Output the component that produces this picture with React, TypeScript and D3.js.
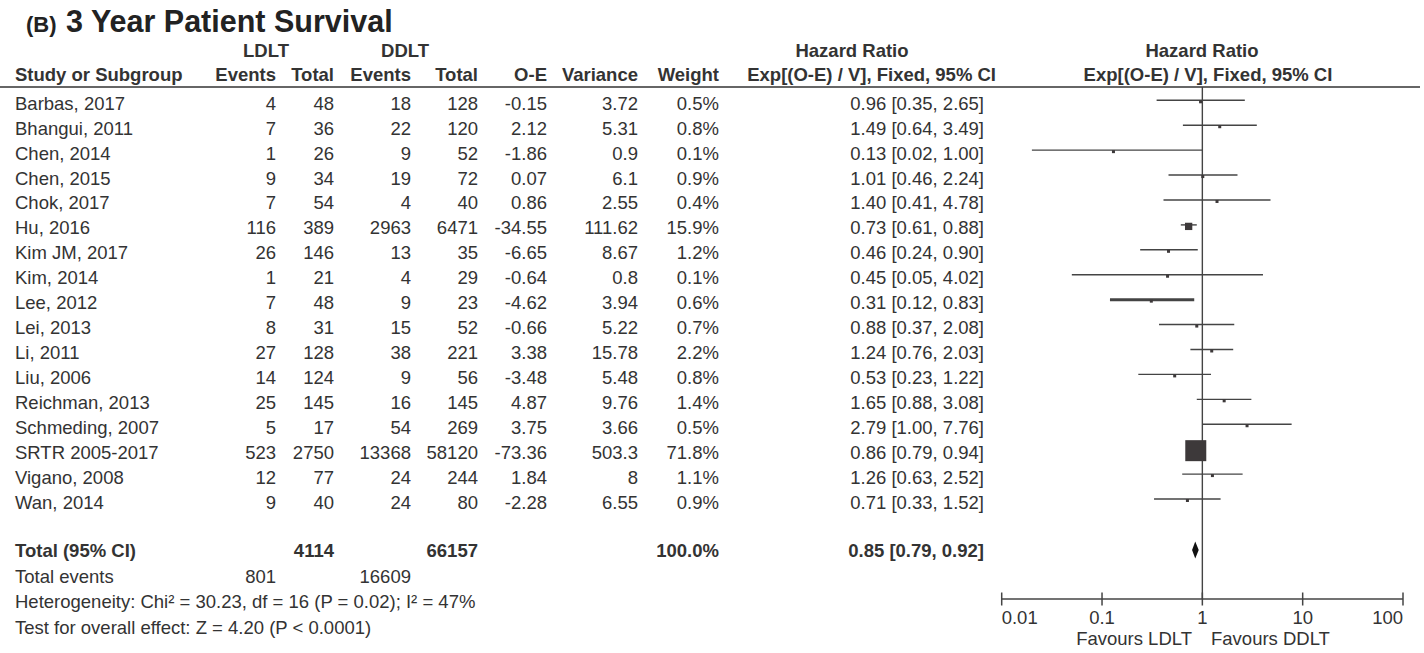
import React, { useEffect } from "react";
import * as d3 from "d3";

const studies = ["Barbas, 2017","Bhangui, 2011","Chen, 2014","Chen, 2015","Chok, 2017","Hu, 2016","Kim JM, 2017","Kim, 2014","Lee, 2012","Lei, 2013","Li, 2011","Liu, 2006","Reichman, 2013","Schmeding, 2007","SRTR 2005-2017","Vigano, 2008","Wan, 2014"];
const ldltEvents = [4,7,1,9,7,116,26,1,7,8,27,14,25,5,523,12,9];
const ldltTotal = [48,36,26,34,54,389,146,21,48,31,128,124,145,17,2750,77,40];
const ddltEvents = [18,22,9,19,4,2963,13,4,9,15,38,9,16,54,13368,24,24];
const ddltTotal = [128,120,52,72,40,6471,35,29,23,52,221,56,145,269,58120,244,80];
const oeValues = [-0.15,2.12,-1.86,0.07,0.86,-34.55,-6.65,-0.64,-4.62,-0.66,3.38,-3.48,4.87,3.75,-73.36,1.84,-2.28];
const varianceValues = [3.72,5.31,0.9,6.1,2.55,111.62,8.67,0.8,3.94,5.22,15.78,5.48,9.76,3.66,503.3,8,6.55];
const weights = [0.5,0.8,0.1,0.9,0.4,15.9,1.2,0.1,0.6,0.7,2.2,0.8,1.4,0.5,71.8,1.1,0.9];
const hrValues = [0.96,1.49,0.13,1.01,1.40,0.73,0.46,0.45,0.31,0.88,1.24,0.53,1.65,2.79,0.86,1.26,0.71];
const ciLow = [0.35,0.64,0.02,0.46,0.41,0.61,0.24,0.05,0.12,0.37,0.76,0.23,0.88,1.00,0.79,0.63,0.33];
const ciHigh = [2.65,3.49,1.00,2.24,4.78,0.88,0.90,4.02,0.83,2.08,2.03,1.22,3.08,7.76,0.94,2.52,1.52];

const totalLdlt = 4114;
const totalDdlt = 66157;
const totalEventsLdlt = 801;
const totalEventsDdlt = 16609;
const totalWeight = "100.0%";
const pooled = { hr: 0.85, low: 0.79, high: 0.92 };
const axisTicks = [0.01, 0.1, 1, 10, 100];
const axisTickLabels = ["0.01", "0.1", "1", "10", "100"];
const heterogeneityText = "Heterogeneity: Chi² = 30.23, df = 16 (P = 0.02); I² = 47%";
const overallText = "Test for overall effect: Z = 4.20 (P < 0.0001)";
const thickCIStudy = "Lee, 2012";

const W = 1424, H = 653;
const FONT = "'Liberation Sans', Arial, Helvetica, sans-serif";
const TXT = "#333333";
const LINE = "#444444";
const FS = 18.5;

export default function App() {
  useEffect(() => {
    document.body.style.margin = "0";
  }, []);

  const x = d3.scaleLog().domain([0.01, 100]).range([1001.7, 1403]);
  const yRow = d3.scaleLinear().domain([0, studies.length - 1]).range([100.3, 499]);
  const size = d3.scalePow().exponent(0.7).domain([0, 71.8]).range([0, 21]);

  const cols = { ev1: 276, tot1: 334, ev2: 411, tot2: 478, oe: 547, vr: 638, wt: 719, hr: 984 };
  const fmt2 = d3.format(".2f");
  const hrText = (h: number, l: number, u: number) => `${fmt2(h)} [${fmt2(l)}, ${fmt2(u)}]`;

  const axisY = 599;
  const totalY = 550;
  const x1 = x(1);

  const diamond = [
    [x(pooled.low), totalY],
    [x(pooled.hr), totalY - 8.5],
    [x(pooled.high), totalY],
    [x(pooled.hr), totalY + 8.5],
  ];

  return (
    <svg width={W} height={H} style={{ display: "block", background: "#fff" }} fontFamily={FONT}>
      <text x={26} y={32} fontSize={22} fontWeight="bold" fill="#222">(B)</text>
      <text x={66} y={32} fontSize={30.5} fontWeight="bold" fill="#222">3 Year Patient Survival</text>

      <g fontSize={FS} fontWeight="bold" fill={TXT}>
        <text x={266} y={57} textAnchor="middle">LDLT</text>
        <text x={405} y={57} textAnchor="middle">DDLT</text>
        <text x={852} y={57} textAnchor="middle">Hazard Ratio</text>
        <text x={1202} y={57} textAnchor="middle">Hazard Ratio</text>
        <text x={15} y={81}>Study or Subgroup</text>
        <text x={cols.ev1} y={81} textAnchor="end">Events</text>
        <text x={cols.tot1} y={81} textAnchor="end">Total</text>
        <text x={cols.ev2} y={81} textAnchor="end">Events</text>
        <text x={cols.tot2} y={81} textAnchor="end">Total</text>
        <text x={cols.oe} y={81} textAnchor="end">O-E</text>
        <text x={cols.vr} y={81} textAnchor="end">Variance</text>
        <text x={cols.wt} y={81} textAnchor="end">Weight</text>
        <text x={996} y={81} textAnchor="end">Exp[(O-E) / V], Fixed, 95% CI</text>
        <text x={1208} y={81} textAnchor="middle">Exp[(O-E) / V], Fixed, 95% CI</text>
      </g>
      <line x1={0} x2={1420} y1={87} y2={87} stroke="#333" strokeWidth={1.5} />

      <g fontSize={FS} fill={TXT}>
        {studies.map((s, i) => {
          const ty = yRow(i) + 9.5;
          return (
            <g key={s}>
              <text x={15} y={ty}>{s}</text>
              <text x={cols.ev1} y={ty} textAnchor="end">{ldltEvents[i]}</text>
              <text x={cols.tot1} y={ty} textAnchor="end">{ldltTotal[i]}</text>
              <text x={cols.ev2} y={ty} textAnchor="end">{ddltEvents[i]}</text>
              <text x={cols.tot2} y={ty} textAnchor="end">{ddltTotal[i]}</text>
              <text x={cols.oe} y={ty} textAnchor="end">{String(oeValues[i])}</text>
              <text x={cols.vr} y={ty} textAnchor="end">{String(varianceValues[i])}</text>
              <text x={cols.wt} y={ty} textAnchor="end">{weights[i].toFixed(1)}%</text>
              <text x={cols.hr} y={ty} textAnchor="end">{hrText(hrValues[i], ciLow[i], ciHigh[i])}</text>
            </g>
          );
        })}
      </g>

      <line x1={x1} x2={x1} y1={87} y2={axisY} stroke={LINE} strokeWidth={1.4} />

      <g>
        {studies.map((s, i) => {
          const cy = yRow(i);
          const sz = Math.max(3, size(weights[i]));
          return (
            <g key={s}>
              <line x1={x(ciLow[i])} x2={x(ciHigh[i])} y1={cy} y2={cy} stroke={LINE}
                strokeWidth={s === thickCIStudy ? 3 : 1.4} />
              <rect x={x(hrValues[i]) - sz / 2} y={cy + 1.5 - sz / 2} width={sz} height={sz} fill="#3d393a" />
            </g>
          );
        })}
      </g>

      <g fontSize={FS} fill={TXT}>
        <text x={15} y={557} fontWeight="bold">Total (95% CI)</text>
        <text x={cols.tot1} y={557} fontWeight="bold" textAnchor="end">{totalLdlt}</text>
        <text x={cols.tot2} y={557} fontWeight="bold" textAnchor="end">{totalDdlt}</text>
        <text x={cols.wt} y={557} fontWeight="bold" textAnchor="end">{totalWeight}</text>
        <text x={cols.hr} y={557} fontWeight="bold" textAnchor="end">{hrText(pooled.hr, pooled.low, pooled.high)}</text>
        <text x={15} y={583}>Total events</text>
        <text x={cols.ev1} y={583} textAnchor="end">{totalEventsLdlt}</text>
        <text x={cols.ev2} y={583} textAnchor="end">{totalEventsDdlt}</text>
        <text x={15} y={608}>{heterogeneityText}</text>
        <text x={15} y={634}>{overallText}</text>
      </g>

      <polygon points={diamond.map(p => p.join(",")).join(" ")} fill="#111" />

      <g>
        <line x1={x(0.01)} x2={x(100)} y1={axisY} y2={axisY} stroke={LINE} strokeWidth={1.5} />
        {axisTicks.map((t, i) => {
          const anchor = i === 0 ? "start" : i === axisTicks.length - 1 ? "end" : "middle";
          return (
            <g key={t}>
              <line x1={x(t)} x2={x(t)} y1={axisY - 6.5} y2={axisY + 6.5} stroke={LINE} strokeWidth={1.5} />
              <text x={x(t)} y={624} fontSize={FS} fill={TXT} textAnchor={anchor}>{axisTickLabels[i]}</text>
            </g>
          );
        })}
        <text x={1192} y={645} fontSize={FS} fill={TXT} textAnchor="end">Favours LDLT</text>
        <text x={1211} y={645} fontSize={FS} fill={TXT}>Favours DDLT</text>
      </g>
    </svg>
  );
}
